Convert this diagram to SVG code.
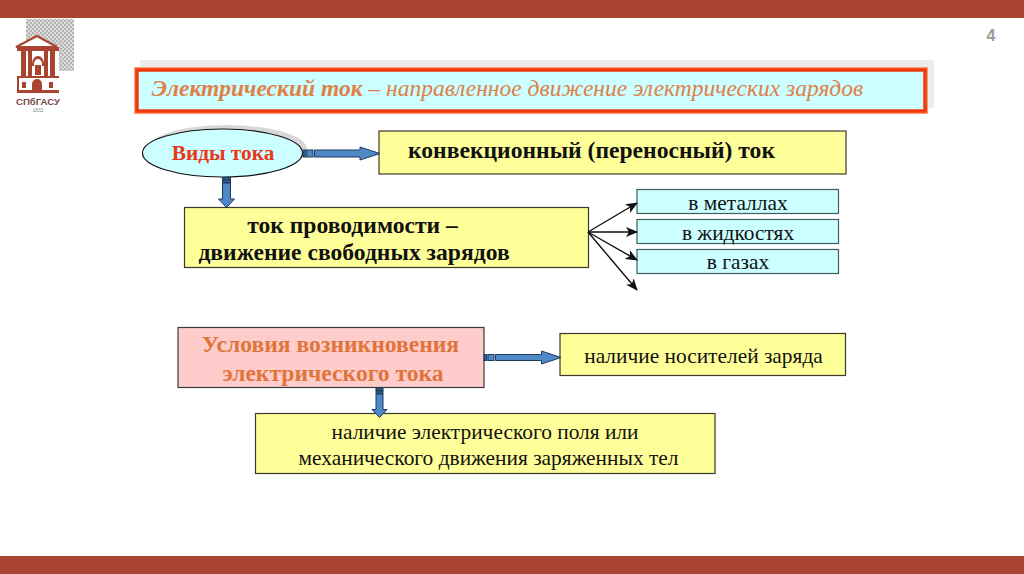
<svg xmlns="http://www.w3.org/2000/svg" width="1024" height="574" viewBox="0 0 1024 574">
<style>
.y{fill:#FFFF99;stroke:#3a3a2a;stroke-width:1.2}
.c{fill:#CCFFFF;stroke:#3f6060;stroke-width:1.2}
text{font-family:"Liberation Serif","Times New Roman",serif;text-anchor:middle;fill:#111}
.b{font-weight:bold}
.a{fill:#4F88C6;stroke:#1F3A5A;stroke-width:1}
.d{fill:#2F5F90;stroke:#1F3A5A;stroke-width:1}
.l{stroke:#111;stroke-width:1.4;fill:none;marker-end:url(#ah)}
.br{fill:#A8442F}
.s{font-size:21.4px}
.m{font-size:23.6px}
</style>
<defs>
<marker id="ah" viewBox="0 0 12 10" refX="11" refY="5" markerWidth="12" markerHeight="10" markerUnits="userSpaceOnUse" orient="auto"><path d="M0 0L12 5L0 10L3 5Z" fill="#111"/></marker>
<pattern id="tex" width="4" height="4" patternUnits="userSpaceOnUse"><rect width="4" height="4" fill="#dcdcdc"/><path d="M0 0h2v2h-2zM2 2h2v2h-2z" fill="#b4b4b4"/></pattern>
</defs>
<rect width="1024" height="574" fill="#fff"/>
<rect x="0" y="0" width="1024" height="18" fill="#A8442F"/>
<rect x="0" y="556" width="1024" height="18" fill="#A8442F"/>
<text x="991" y="41" style="font-family:'Liberation Sans',sans-serif;font-size:16px;font-weight:bold;fill:#9a9a9a">4</text>
<g id="logo">
<rect x="26" y="19" width="48" height="52" fill="url(#tex)"/>
<rect x="17" y="46" width="42" height="46" fill="#fff"/>
<path d="M16 47L37 36L57 47Z" fill="#fff" stroke="#A8442F" stroke-width="2"/>
<rect class="br" x="17" y="47" width="42" height="4"/>
<path class="br" d="M21 51h5v25h-5zM28 51h4v25h-4zM44 51h4v25h-4zM50 51h5v25h-5z"/>
<path class="br" d="M32 64a6 8 0 0 1 12 0v2h-2v-2a4 5 0 0 0-8 0v2h-2z"/>
<rect class="br" x="35" y="65" width="6" height="10"/>
<path class="br" d="M17 76h42v2h-42zM17 90h42v3h-42z"/>
<path class="br" d="M22 82h4v6h-4zM49 82h4v6h-4zM32 92v-8a5 5 0 0 1 10 0v8z"/>
<rect class="br" x="17" y="78" width="2" height="14"/>
<text x="38" y="104.500" class="b" textLength="44" lengthAdjust="spacingAndGlyphs" style="font-family:'Liberation Sans',sans-serif;font-size:9px;fill:#7a4a44">СПбГАСУ</text>
<text x="38" y="112" style="font-family:'Liberation Sans',sans-serif;font-size:5px;fill:#888">1832</text>
</g>
<g id="title">
<rect x="140" y="60" width="794" height="48" fill="#ececec"/>
<rect x="134" y="67" width="794" height="47" fill="#FF9A70"/>
<rect x="137" y="70" width="788" height="41" fill="#CCFFFF" stroke="#F03A10" stroke-width="3.500"/>
<text x="507.500" y="96" style="font-size:23.500px;font-style:italic;fill:#DE8048"><tspan font-weight="bold">Электрический ток</tspan> – направленное движение электрических зарядов</text>
</g>
<g id="vidy">
<ellipse cx="227" cy="149" rx="80" ry="24" fill="#d8d8d8"/>
<ellipse cx="222.500" cy="153" rx="80" ry="24" fill="#CCFFFF" stroke="#111" stroke-width="1.200"/>
<text x="223" y="160" class="b" style="font-size:21.300px;fill:#E8381A">Виды тока</text>
</g>
<g id="convection">
<rect class="y" x="379" y="131" width="467" height="43"/>
<text x="591.500" y="158" class="b m">конвекционный (переносный) ток</text>
</g>
<g id="conduction">
<rect class="y" x="184.500" y="207.500" width="404" height="60"/>
<text x="352.500" y="233" class="b m">ток проводимости –</text>
<text x="354" y="260" class="b m">движение свободных зарядов</text>
</g>
<g id="metals"><rect class="c" x="637" y="189.500" width="201.500" height="24"/><text x="738" y="210" class="s">в металлах</text></g>
<g id="liquids"><rect class="c" x="637" y="219.500" width="201.500" height="24"/><text x="738" y="240" class="s">в жидкостях</text></g>
<g id="gases"><rect class="c" x="637" y="249.500" width="201.500" height="24"/><text x="738" y="269" class="s">в газах</text></g>
<g id="conditions">
<rect x="178" y="327.500" width="306" height="60" fill="#FFCCCC" stroke="#3a3a3a" stroke-width="1.200"/>
<text x="330.500" y="352" class="b m" style="fill:#E0743A">Условия возникновения</text>
<text x="333" y="381" class="b m" style="fill:#E0743A">электрического тока</text>
</g>
<g id="carriers">
<rect class="y" x="560" y="333.500" width="285.500" height="42"/>
<text x="703.500" y="363" class="s">наличие носителей заряда</text>
</g>
<g id="field">
<rect class="y" x="255.500" y="413.500" width="459.500" height="60"/>
<text x="485" y="439" class="s">наличие электрического поля или</text>
<text x="488.500" y="465" class="s">механического движения заряженных тел</text>
</g>
<g id="connectors">
<path class="a" d="M314.500 150H360V147L380 153.500L360 160V157H314.500Z"/>
<rect class="d" x="303" y="150" width="3" height="7"/>
<rect class="a" x="307" y="150" width="6" height="7"/>
<path class="a" d="M222.500 183H230.500V199H234.500L226.500 207.500L218.500 199H222.500Z"/>
<rect class="d" x="222.500" y="177.500" width="8" height="2.500"/>
<rect class="d" x="222.500" y="180" width="8" height="2.500"/>
<line class="l" x1="588" y1="232" x2="637" y2="203"/>
<line class="l" x1="588" y1="232" x2="637" y2="232"/>
<line class="l" x1="588" y1="232" x2="637" y2="260"/>
<line class="l" x1="588" y1="232" x2="637" y2="290"/>
<path class="a" d="M495.500 354.500H541.500V351L561 357.500L541.500 364V360.500H495.500Z"/>
<rect class="d" x="484" y="354.500" width="3" height="6"/>
<rect class="a" x="488" y="354.500" width="6" height="6"/>
<path class="a" d="M376 394H383V409.500H387L379.500 417.500L372 409.500H376Z"/>
<rect class="d" x="376" y="388" width="7" height="2.500"/>
<rect class="d" x="376" y="391" width="7" height="2.500"/>
</g>
</svg>
